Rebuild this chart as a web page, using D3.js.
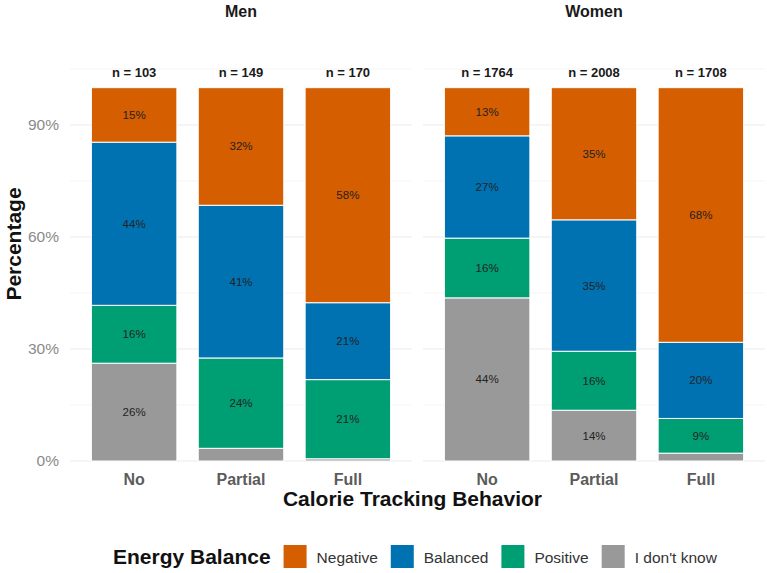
<!DOCTYPE html>
<html>
<head>
<meta charset="utf-8">
<script src="https://cdn.jsdelivr.net/npm/d3@7"></script>
<style>
  body { margin: 0; background: #fff; }
  text { font-family: "Liberation Sans", Arial, sans-serif; }
</style>
</head>
<body>
<svg width="767" height="573"></svg>
<script>
const svg = d3.select("svg");

// data (percent of respondents)
const genders = ["Men", "Women"];
const tracking = ["No", "Partial", "Full"];
const balances = ["Negative", "Balanced", "Positive", "I don't know"];
const colors = ["#D55E00", "#0072B2", "#009E73", "#999999"];

const nMen = [103, 149, 170];
const nWomen = [1764, 2008, 1708];

const negativeMen = [14.6, 31.5, 57.6];
const balancedMen = [43.7, 40.9, 20.6];
const positiveMen = [15.5, 24.2, 21.2];
const unknownMen = [26.2, 3.4, 0.6];

const negativeWomen = [12.9, 35.4, 68.2];
const balancedWomen = [27.4, 35.2, 20.4];
const positiveWomen = [16.0, 15.8, 9.3];
const unknownWomen = [43.7, 13.6, 2.1];

const yTicks = [0, 30, 60, 90];
const yMinor = [15, 45, 75, 105];

function rowsFor(n, neg, bal, pos, unk) {
  return tracking.map((t, i) => ({
    tracking: t, n: n[i],
    "Negative": neg[i], "Balanced": bal[i], "Positive": pos[i], "I don't know": unk[i]
  }));
}
const panelData = [
  rowsFor(nMen, negativeMen, balancedMen, positiveMen, unknownMen),
  rowsFor(nWomen, negativeWomen, balancedWomen, positiveWomen, unknownWomen)
];

const color = d3.scaleOrdinal().domain(balances).range(colors);

// layout
const panelX = [[70, 412], [423, 765]];
const y = d3.scaleLinear().domain([0, 105]).range([461, 69]);

// bottom of stack is "I don't know"
const stack = d3.stack().keys(balances.slice().reverse());

genders.forEach((g, gi) => {
  const [x0, x1] = panelX[gi];
  const x = d3.scaleBand().domain(tracking).range([x0, x1])
    .paddingInner(0.2).paddingOuter(0.2);
  const panel = svg.append("g");

  // grid
  panel.selectAll(".minor").data(yMinor).join("line")
    .attr("x1", x0).attr("x2", x1)
    .attr("y1", d => y(d)).attr("y2", d => y(d))
    .attr("stroke", "#f0f0f0").attr("stroke-width", 0.7);
  panel.selectAll(".major").data(yTicks).join("line")
    .attr("x1", x0).attr("x2", x1)
    .attr("y1", d => y(d)).attr("y2", d => y(d))
    .attr("stroke", "#ebebeb").attr("stroke-width", 1);

  // strip title
  svg.append("text")
    .attr("x", (x0 + x1) / 2).attr("y", 17)
    .attr("text-anchor", "middle")
    .attr("font-size", "16px").attr("font-weight", "bold")
    .attr("fill", "#1a1a1a")
    .text(g);

  const series = stack(panelData[gi]);
  const layer = panel.selectAll(".layer").data(series).join("g")
    .attr("fill", d => color(d.key));

  layer.selectAll("rect").data(d => d).join("rect")
    .attr("x", d => x(d.data.tracking))
    .attr("width", x.bandwidth())
    .attr("y", d => y(d[1]))
    .attr("height", d => y(d[0]) - y(d[1]))
    .attr("stroke", "#fff").attr("stroke-width", 1);

  layer.selectAll("text").data(d => d.filter(v => v[1] - v[0] >= 5)).join("text")
    .attr("x", d => x(d.data.tracking) + x.bandwidth() / 2)
    .attr("y", d => y((d[0] + d[1]) / 2))
    .attr("dy", "0.35em")
    .attr("text-anchor", "middle")
    .attr("font-size", "11.5px")
    .attr("fill", "#222")
    .text(d => Math.round(d[1] - d[0]) + "%");

  // sample size labels
  panel.selectAll(".nlab").data(panelData[gi]).join("text")
    .attr("x", d => x(d.tracking) + x.bandwidth() / 2)
    .attr("y", y(105) + 8)
    .attr("text-anchor", "middle")
    .attr("font-size", "13px").attr("font-weight", "bold")
    .attr("fill", "#1a1a1a")
    .text(d => "n = " + d.n);

  // x axis labels
  panel.selectAll(".xlab").data(tracking).join("text")
    .attr("x", d => x(d) + x.bandwidth() / 2)
    .attr("y", 485)
    .attr("text-anchor", "middle")
    .attr("font-size", "16px").attr("font-weight", "bold")
    .attr("fill", "#5c5c5c")
    .text(d => d);

  if (gi === 0) {
    svg.append("g").selectAll("text").data(yTicks).join("text")
      .attr("x", 59).attr("y", d => y(d))
      .attr("dy", "0.35em")
      .attr("text-anchor", "end")
      .attr("font-size", "15.5px")
      .attr("fill", "#8a8a8a")
      .text(d => d + "%");
  }
});

// axis titles
svg.append("text")
  .attr("transform", "translate(21,244) rotate(-90)")
  .attr("text-anchor", "middle")
  .attr("font-size", "21px").attr("font-weight", "bold")
  .attr("fill", "#111")
  .text("Percentage");

svg.append("text")
  .attr("x", 412.5).attr("y", 506)
  .attr("text-anchor", "middle")
  .attr("font-size", "21px").attr("font-weight", "bold")
  .attr("fill", "#111")
  .text("Calorie Tracking Behavior");

// legend
const legend = svg.append("g");
let lx = 113;
const title = legend.append("text")
  .attr("x", lx).attr("y", 564)
  .attr("font-size", "21px").attr("font-weight", "bold")
  .attr("fill", "#111")
  .text("Energy Balance");
lx += title.node().getComputedTextLength() + 13;
balances.forEach(b => {
  legend.append("rect")
    .attr("x", lx).attr("y", 545)
    .attr("width", 23).attr("height", 23)
    .attr("fill", color(b));
  lx += 23 + 10;
  const t = legend.append("text")
    .attr("x", lx).attr("y", 563)
    .attr("font-size", "15.5px")
    .attr("fill", "#333")
    .text(b);
  lx += t.node().getComputedTextLength() + 13;
});
</script>
</body>
</html>
